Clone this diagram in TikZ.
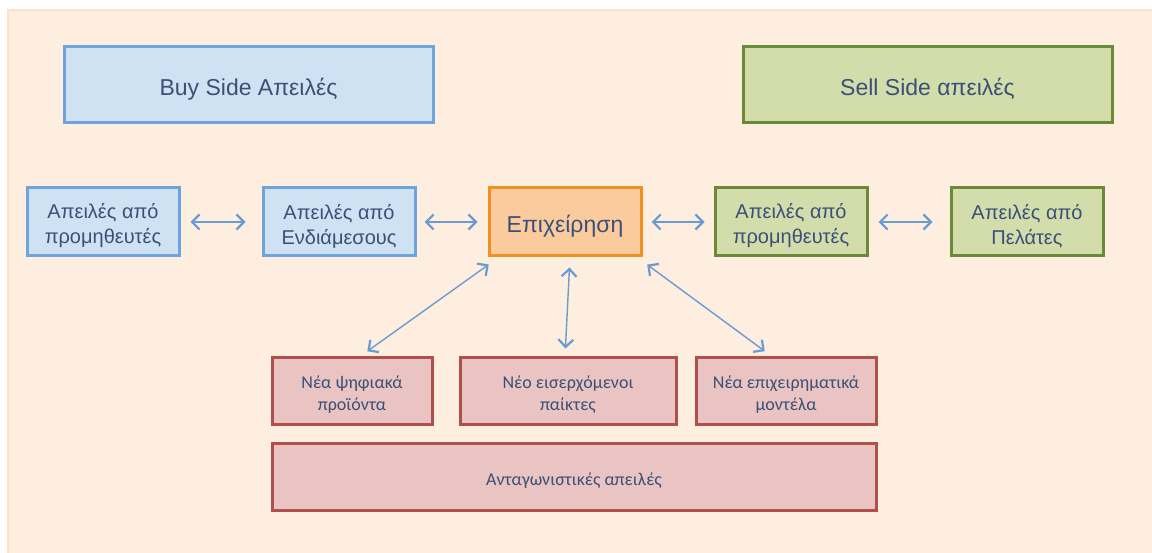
\documentclass[tikz,border=0pt]{standalone}
\usepackage{fontspec}
\setmainfont{Liberation Sans}
\newfontfamily\lowfont{Carlito}
\usetikzlibrary{arrows.meta}
\definecolor{bgfill}{HTML}{FDEEE0}
\definecolor{bgline}{HTML}{FCE2CC}
\definecolor{bluefill}{HTML}{CFE2F3}
\definecolor{blueline}{HTML}{6FA3DE}
\definecolor{greenfill}{HTML}{D2DDAB}
\definecolor{greenline}{HTML}{6A8A3A}
\definecolor{orangefill}{HTML}{FBCB9E}
\definecolor{orangeline}{HTML}{F0901E}
\definecolor{redfill}{HTML}{EAC4C2}
\definecolor{redline}{HTML}{B0504C}
\definecolor{txt}{HTML}{3A5077}
\definecolor{arrowc}{HTML}{6A9BD1}
\tikzset{
  box/.style={draw, line width=3pt, inner sep=0pt},
  bluebox/.style={box, fill=bluefill, draw=blueline},
  greenbox/.style={box, fill=greenfill, draw=greenline},
  orangebox/.style={box, fill=orangefill, draw=orangeline},
  redbox/.style={box, fill=redfill, draw=redline},
  lbl/.style={align=center, inner sep=0pt, text=txt, yshift=-4pt},
  lowtext/.style={lbl, font=\lowfont\fontsize{18}{22}\selectfont},
  rowtext/.style={lbl, font=\fontsize{20}{25}\selectfont},
  bigtext/.style={lbl, font=\fontsize{23}{26}\selectfont},
  arr/.style={draw=arrowc, line width=1.4pt, {Straight Barb[length=7.5pt,width=15pt,line width=2.2pt]}-{Straight Barb[length=7.5pt,width=15pt,line width=2.2pt]}}
}
\begin{document}
\begin{tikzpicture}[x=1pt,y=-1pt]
\useasboundingbox (0,0) rectangle (1152,553);
\fill[white] (0,0) rectangle (1152,553);
\filldraw[fill=bgfill, draw=bgline, line width=2pt] (8,10) rectangle (1160,560);

\node[bluebox, minimum width=369pt, minimum height=76pt] (buy) at (248.5,85) {};
\node[bigtext] (buyt) at (buy) {Buy Side Απειλές};
\node[greenbox, minimum width=369pt, minimum height=76pt] (sell) at (927.5,85) {};
\node[bigtext] (sellt) at (sell) {Sell Side απειλές};

\node[bluebox, minimum width=152pt, minimum height=68pt] (b1) at (103,222) {};
\node[rowtext] (b1t) at (b1) {Απειλές από\\προμηθευτές};
\node[bluebox, minimum width=152pt, minimum height=68pt] (b2) at (339,222) {};
\node[rowtext] (b2t) at (b2) {Απειλές από\\Ενδιάμεσους};
\node[orangebox, minimum width=152pt, minimum height=68pt] (e) at (565,222) {};
\node[bigtext] (et) at (e) {Επιχείρηση};
\node[greenbox, minimum width=152pt, minimum height=68pt] (g1) at (791,222) {};
\node[rowtext] (g1t) at (g1) {Απειλές από\\προμηθευτές};
\node[greenbox, minimum width=152pt, minimum height=68pt] (g2) at (1027,222) {};
\node[rowtext] (g2t) at (g2) {Απειλές από\\Πελάτες};

\node[redbox, minimum width=160pt, minimum height=66pt] (p1) at (352,391) {};
\node[lowtext] (p1t) at (p1) {Νέα ψηφιακά\\προϊόντα};
\node[redbox, minimum width=216pt, minimum height=66pt] (p2) at (568,391) {};
\node[lowtext] (p2t) at (p2) {Νέο εισερχόμενοι\\παίκτες};
\node[redbox, minimum width=180pt, minimum height=66pt] (p3) at (786,391) {};
\node[lowtext] (p3t) at (p3) {Νέα επιχειρηματικά\\μοντέλα};
\node[redbox, minimum width=604pt, minimum height=67pt] (comp) at (574,476.5) {};
\node[lowtext] (compt) at (comp) {Ανταγωνιστικές απειλές};

\draw[arr, shorten <=10pt, shorten >=16pt] (b1.east) -- (b2.west);
\draw[arr, shorten <=8pt, shorten >=10pt] (b2.east) -- (e.west);
\draw[arr, shorten <=9pt, shorten >=9pt] (e.east) -- (g1.west);
\draw[arr, shorten <=10pt, shorten >=17pt] (g1.east) -- (g2.west);

\draw[arr, shorten <=12pt, shorten >=9pt] ([xshift=11pt]e.south west) -- ([xshift=8pt]p1.north);
\draw[arr, shorten <=10pt, shorten >=8pt] ([xshift=5pt]e.south) -- ([xshift=-3pt]p2.north);
\draw[arr, shorten <=12pt, shorten >=9pt] ([xshift=-5pt]e.south east) -- ([xshift=-14pt]p3.north);
\end{tikzpicture}
\end{document}
